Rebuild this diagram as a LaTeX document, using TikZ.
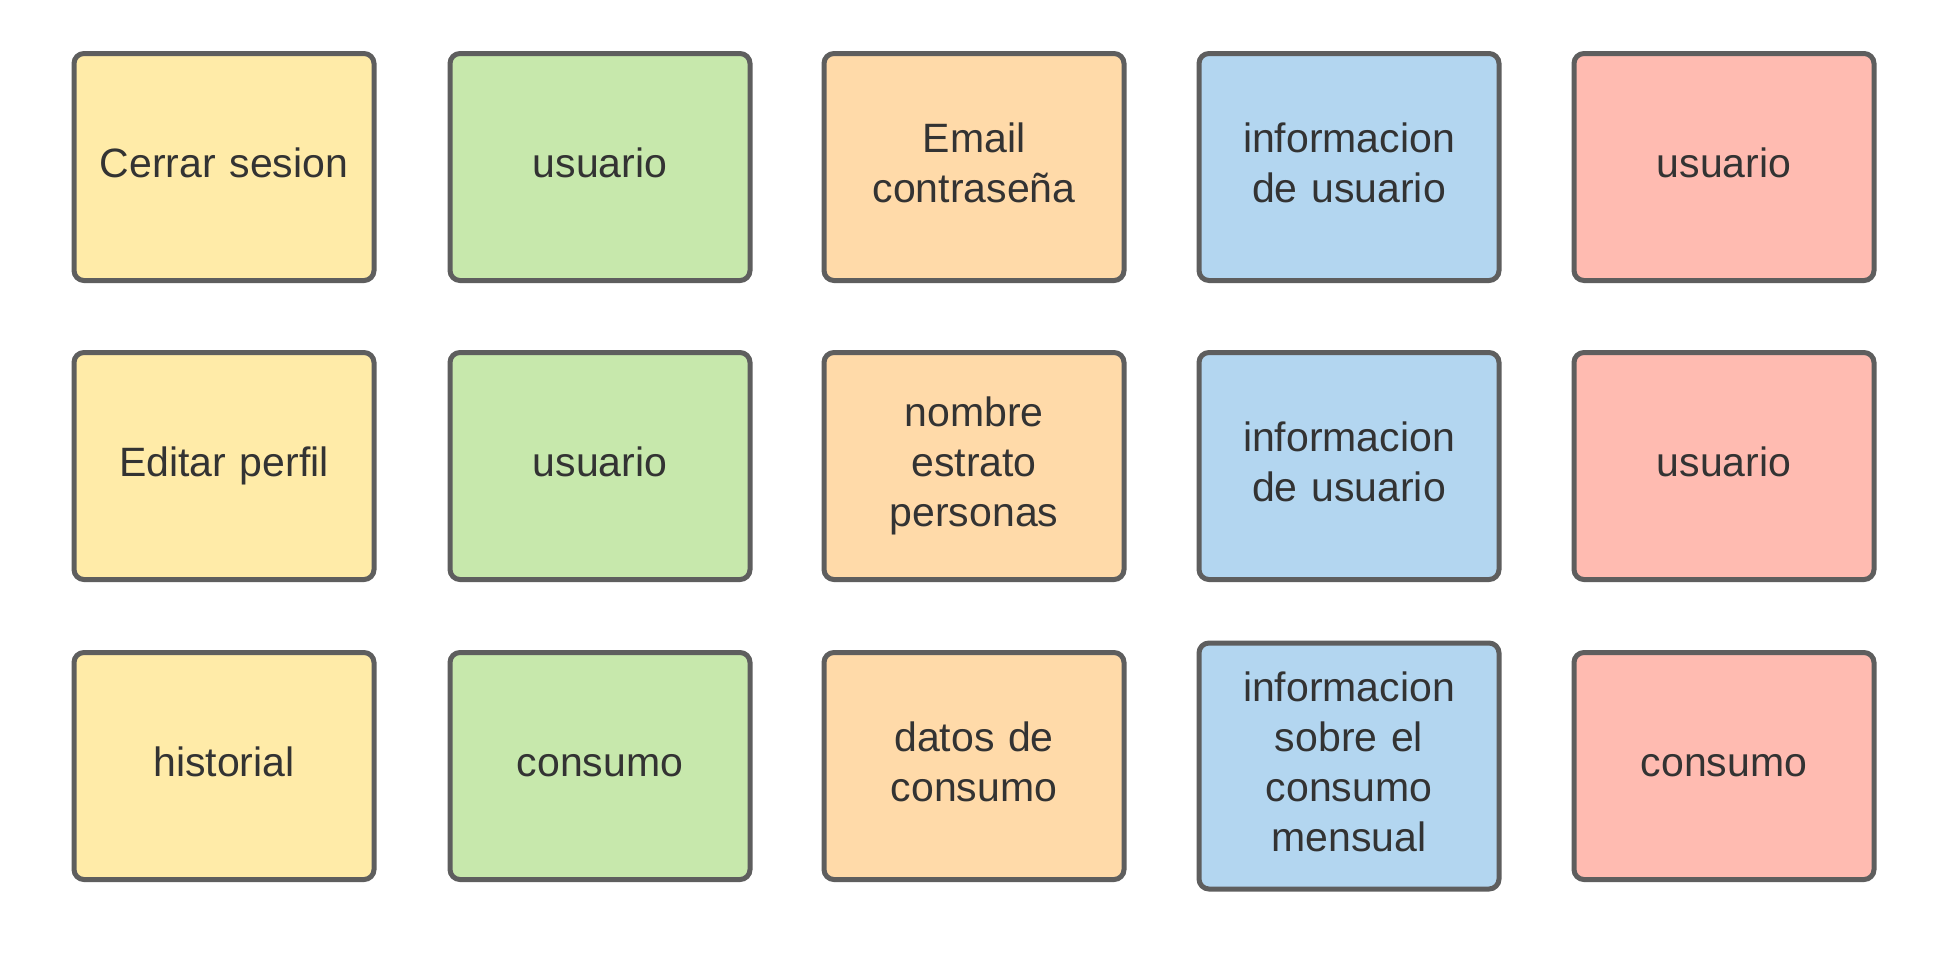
\documentclass[tikz,border=0pt]{standalone}
\usepackage{fontspec}
\setmainfont{Liberation Sans}
\definecolor{cyellow}{HTML}{FFEBA8}
\definecolor{cgreen}{HTML}{C7E8AC}
\definecolor{corange}{HTML}{FFDAA9}
\definecolor{cblue}{HTML}{B3D6F0}
\definecolor{cred}{HTML}{FFBBB1}
\definecolor{cborder}{HTML}{5E5E5E}
\definecolor{ctext}{HTML}{333333}
\newcommand\linestrut{\rule[-15pt]{0pt}{50pt}}
\tikzset{
  card/.style={draw=cborder, line width=5pt, rounded corners=10pt,
    minimum width=300pt, minimum height=227pt, text width=285pt,
    align=center, text=ctext, inner sep=0pt,
    font=\fontsize{41pt}{50pt}\selectfont,
    execute at begin node=\linestrut,
    execute at end node=\linestrut},
}
\begin{document}
\begin{tikzpicture}[x=1pt,y=-1pt]
\useasboundingbox (0,0) rectangle (1937,964);
\fill[white] (0,0) rectangle (1937,964);
% row 1
\node[card, fill=cyellow] (a1) at (224,167) {Cerrar sesion};
\node[card, fill=cgreen]  (b1) at (600,167) {usuario};
\node[card, fill=corange] (c1) at (974,167) {Email\\contraseña};
\node[card, fill=cblue]   (d1) at (1349,167) {informacion\\de usuario};
\node[card, fill=cred]    (e1) at (1724,167) {usuario};
% row 2
\node[card, fill=cyellow] (a2) at (224,466) {Editar perfil};
\node[card, fill=cgreen]  (b2) at (600,466) {usuario};
\node[card, fill=corange] (c2) at (974,466) {nombre\\estrato\\personas};
\node[card, fill=cblue]   (d2) at (1349,466) {informacion\\de usuario};
\node[card, fill=cred]    (e2) at (1724,466) {usuario};
% row 3
\node[card, fill=cyellow] (a3) at (224,766) {historial};
\node[card, fill=cgreen]  (b3) at (600,766) {consumo};
\node[card, fill=corange] (c3) at (974,766) {datos de\\consumo};
\node[card, fill=cblue, minimum height=246pt] (d3) at (1349,766) {informacion\\sobre el\\consumo\\mensual};
\node[card, fill=cred]    (e3) at (1724,766) {consumo};
\end{tikzpicture}
\end{document}
